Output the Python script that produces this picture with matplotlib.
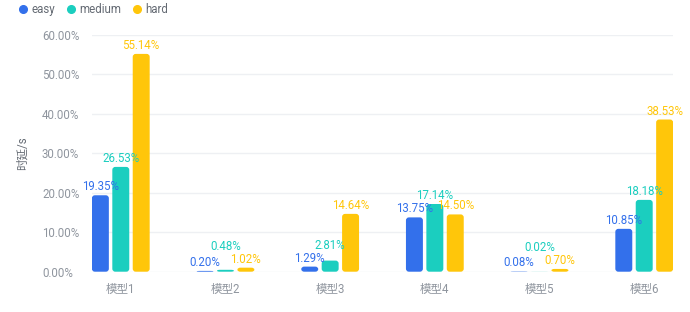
import matplotlib
matplotlib.use('Agg')
import matplotlib.pyplot as plt
from matplotlib.patches import FancyBboxPatch
from matplotlib.lines import Line2D
import numpy as np

plt.rcParams['font.family'] = ['Roboto', 'Noto Sans CJK SC', 'DejaVu Sans']

# data
models = ['模型1', '模型2', '模型3', '模型4', '模型5', '模型6']
easy = [19.35, 0.20, 1.29, 13.75, 0.08, 10.85]
medium = [26.53, 0.48, 2.81, 17.14, 0.02, 18.18]
hard = [55.14, 1.02, 14.64, 14.50, 0.70, 38.53]
series_names = ['easy', 'medium', 'hard']
colors = ['#3370EB', '#1BCEBF', '#FFC60A']
# extra label lift (px) where labels were pushed up to avoid overlap
lift = {'medium': [0, 15, 7, 0, 16, 0]}

fig = plt.figure(figsize=(6.9, 3.12), dpi=100)
ax = fig.add_axes([92/690, 1 - 271.7/312, (673 - 92)/690, (271.7 - 34.7)/312])

x = np.arange(len(models))
bw = 0.162
step = 0.195
gray = '#8F959E'

for i, (name, vals, c) in enumerate(zip(series_names, [easy, medium, hard], colors)):
    xs = x + (i - 1) * step
    bars = ax.bar(xs, vals, width=bw, color=c)
    extra = lift.get(name, [0]*len(vals))
    for b, v, xx, e in zip(bars, vals, xs, extra):
        b.set_visible(False)
        h = b.get_height()
        # rounded corner, limited by bar height
        ry = min(0.76, h / 2)
        rx = 0.0287
        p = FancyBboxPatch((b.get_x(), 0), b.get_width(), h,
                           boxstyle='round,pad=0,rounding_size=%f' % rx,
                           mutation_aspect=ry / rx, facecolor=c, edgecolor='none')
        ax.add_patch(p)
        ax.annotate('%.2f%%' % v, (xx, v), xytext=(0, (8.5 + e) * 0.72),
                    textcoords='offset points', ha='center', va='center',
                    color=c, fontsize=8.3)

ax.set_xlim(-0.275, 5.275)
ax.set_ylim(0, 60)
ax.set_yticks(np.arange(0, 61, 10))
ax.set_yticklabels(['%.2f%%' % t for t in np.arange(0, 61, 10)])
ax.set_xticks(x)
ax.set_xticklabels(models)
for s in ax.spines.values():
    s.set_visible(False)
ax.grid(axis='y', color='#EEF0F3', linewidth=1)
ax.set_axisbelow(True)
ax.tick_params(axis='both', length=0, colors=gray, labelsize=8.3)
ax.tick_params(axis='y', pad=36)
for lbl in ax.get_yticklabels():
    lbl.set_horizontalalignment('left')
ax.tick_params(axis='x', pad=8)

fig.text(22/690, 1 - 153/312, '时延/s', rotation=90, ha='center', va='center',
         color='#646A73', fontsize=8.3)

handles = [Line2D([], [], marker='o', linestyle='none', markersize=5.5,
                  markerfacecolor=c, markeredgecolor=c) for c in colors]
fig.legend(handles, series_names, loc='upper left', bbox_to_anchor=(8/690, 1.025),
           ncol=3, frameon=False, fontsize=8.3, handlelength=0.8,
           handletextpad=0.3, columnspacing=1.0, labelcolor='#646A73')

fig.savefig('out.png', dpi=100)
